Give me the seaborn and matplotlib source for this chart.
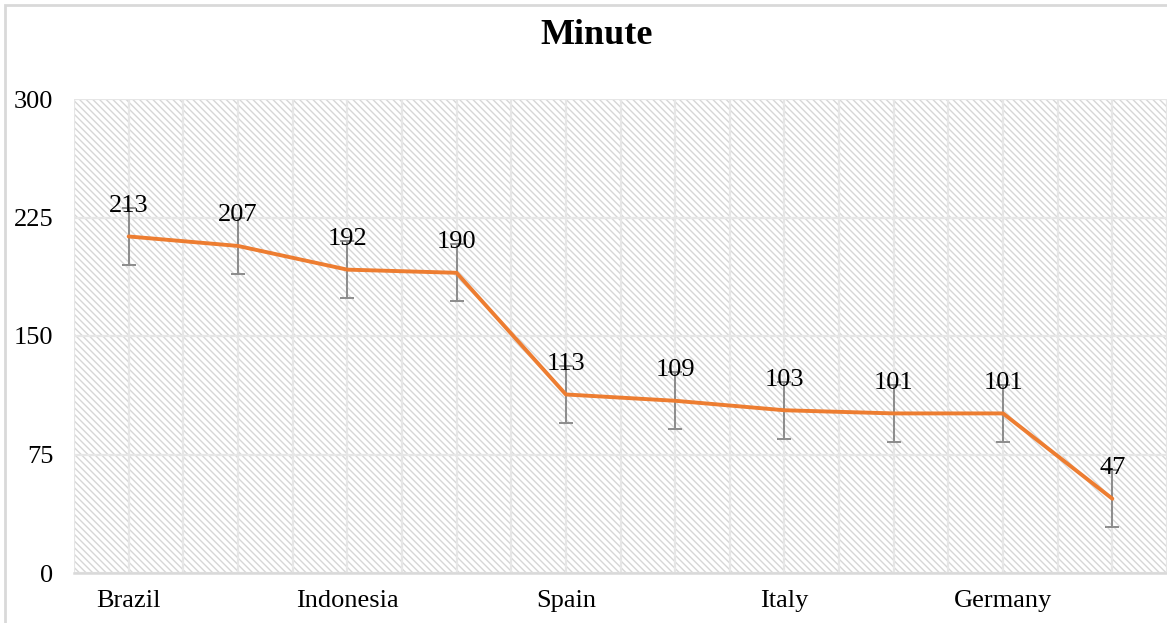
import numpy as np
import matplotlib
matplotlib.use('Agg')
import matplotlib.pyplot as plt
import seaborn as sns
import pandas as pd
from matplotlib.patches import Rectangle

# data
labels = ['Brazil', '', 'Indonesia', '', 'Spain', '', 'Italy', '', 'Germany', '']
minutes = [213, 207, 192, 190, 113, 109, 103, 101, 101, 47]
errors = [18, 18, 18, 18, 18, 18, 18, 18, 18, 18]
yticks = [0, 75, 150, 225, 300]

df = pd.DataFrame({'pos': np.arange(len(minutes)), 'Minute': minutes, 'err': errors})

sns.set_style('white')
plt.rcParams['font.family'] = ['Liberation Serif', 'DejaVu Serif']
plt.rcParams['text.color'] = 'black'
plt.rcParams['xtick.color'] = 'black'
plt.rcParams['ytick.color'] = 'black'
plt.rcParams['hatch.color'] = '#d6d6d6'
plt.rcParams['hatch.linewidth'] = 1.0

fig = plt.figure(figsize=(11.67, 6.23), dpi=100)
ax = fig.add_axes([74 / 1167, 50 / 623, 1 - 74 / 1167, 474 / 623])

# hatched plot area
ax.add_patch(Rectangle((0, 0), 1, 1, transform=ax.transAxes, facecolor='white',
                       edgecolor='#d6d6d6', hatch='\\' * 5, linewidth=0, zorder=0))

ax.set_xlim(-0.5, -0.5 + (1167 - 74) / 110)
ax.set_ylim(0, 300)
ax.set_yticks(yticks)
ax.set_xticks(df['pos'])
ax.set_xticklabels(labels)
ax.set_xticks(np.arange(-0.5, 10, 1), minor=True)
ax.grid(True, which='both', axis='x', color='#e6e6e6', lw=1.6, zorder=1)
ax.grid(True, which='major', axis='y', color='#e6e6e6', lw=1.6, zorder=1)
ax.set_axisbelow(True)

ax.errorbar(df['pos'], df['Minute'], yerr=df['err'], fmt='none', ecolor='#8c8c8c',
            elinewidth=1.4, capsize=5, capthick=1.4, zorder=3)
sns.lineplot(data=df, x='pos', y='Minute', color='#ED7D31', lw=2.8, ax=ax, zorder=4)

for x, v in zip(df['pos'], df['Minute']):
    ax.annotate(str(v), (x, v), xytext=(0, 14), textcoords='offset points',
                ha='center', va='bottom', fontsize=19, color='black', zorder=5)

ax.set_xlabel('')
ax.set_ylabel('')
ax.tick_params(axis='both', which='both', length=0, labelsize=19)
ax.tick_params(axis='y', pad=15)
ax.tick_params(axis='x', pad=12)
for s in ['top', 'right', 'left']:
    ax.spines[s].set_visible(False)
ax.spines['bottom'].set_color('#d9d9d9')
ax.spines['bottom'].set_linewidth(1.8)

fig.text(597 / 1167, 1 - 35 / 623, 'Minute', ha='center', va='center',
         fontsize=26, fontweight='bold', color='black')

# outer chart frame
fig.add_artist(Rectangle((5 / 1167, -0.1), 1.2, 1.1 - 5 / 623, transform=fig.transFigure,
                         fill=False, edgecolor='#d9d9d9', lw=2))

fig.savefig('out.png', dpi=100)
